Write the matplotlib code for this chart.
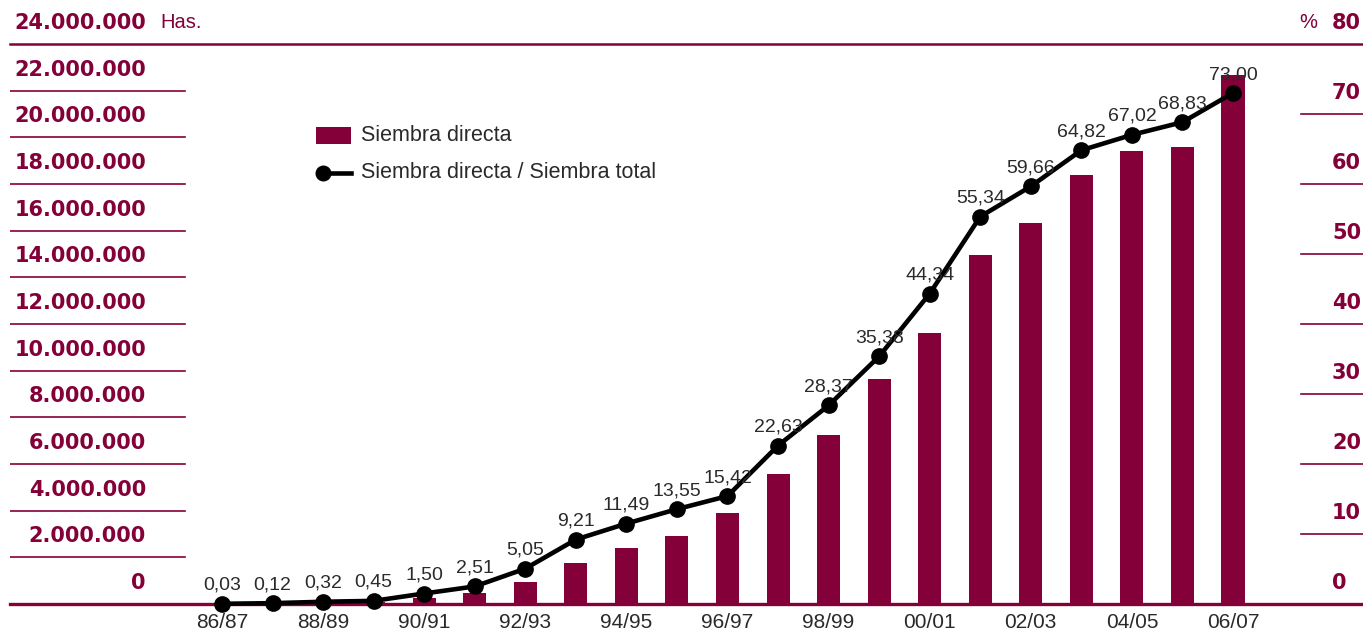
import matplotlib
matplotlib.use('Agg')
import matplotlib.pyplot as plt
import matplotlib.transforms as mtransforms
from matplotlib.patches import Rectangle
from matplotlib.lines import Line2D

# ---------------- data ----------------
campaigns = ['86/87', '87/88', '88/89', '89/90', '90/91', '91/92', '92/93', '93/94',
             '94/95', '95/96', '96/97', '97/98', '98/99', '99/00', '00/01', '01/02',
             '02/03', '03/04', '04/05', '05/06', '06/07']
hectares = [10000, 25000, 70000, 100000, 270000, 480000, 960000, 1770000,
            2410000, 2930000, 3900000, 5570000, 7260000, 9640000, 11630000, 14960000,
            16330000, 18390000, 19410000, 19590000, 22670000]
share_pct = [0.03, 0.12, 0.32, 0.45, 1.50, 2.51, 5.05, 9.21, 11.49, 13.55, 15.42,
             22.63, 28.37, 35.38, 44.34, 55.34, 59.66, 64.82, 67.02, 68.83, 73.00]
share_labels = ['0,03', '0,12', '0,32', '0,45', '1,50', '2,51', '5,05', '9,21', '11,49',
                '13,55', '15,42', '22,63', '28,37', '35,38', '44,34', '55,34', '59,66',
                '64,82', '67,02', '68,83', '73,00']
left_ticks = [0, 2000000, 4000000, 6000000, 8000000, 10000000, 12000000,
              14000000, 16000000, 18000000, 20000000, 22000000, 24000000]
left_tick_labels = ['0', '2.000.000', '4.000.000', '6.000.000', '8.000.000', '10.000.000',
                    '12.000.000', '14.000.000', '16.000.000', '18.000.000', '20.000.000',
                    '22.000.000', '24.000.000']
right_ticks = [0, 10, 20, 30, 40, 50, 60, 70, 80]
right_tick_labels = ['0', '10', '20', '30', '40', '50', '60', '70', '80']
legend_labels = ['Siembra directa', 'Siembra directa / Siembra total']

# ---------------- style ----------------
MAROON = '#840039'
TEXT = '#2a2a2a'
SANS = ['Liberation Sans', 'DejaVu Sans']
BOLD = ['DejaVu Sans']
W, H = 1363, 632

fig = plt.figure(figsize=(W / 100, H / 100), dpi=100)
ax = fig.add_axes([10 / W, 28 / H, 1353 / W, 560 / H])

n = len(campaigns)
xs = list(range(n))
step = 50.55
ax.bar(xs, hectares, width=0.455, color=MAROON, zorder=2, linewidth=0)
ax.set_xlim((10 - 222) / step, (1363 - 222) / step)
ax.set_ylim(0, 24000000)
for s in ax.spines.values():
    s.set_visible(False)
ax.set_yticks([])
ax.set_xticks(xs[::2])
ax.set_xticklabels(campaigns[::2], family=SANS, fontsize=15, color=TEXT)
ax.tick_params(axis='x', length=0, pad=6.5)

# left short grid lines
for v in left_ticks[1:-1]:
    ax.axhline(v, xmin=0, xmax=175 / 1353, color=MAROON, lw=1.2, zorder=1)
ax.axhline(left_ticks[-1], xmin=0, xmax=1, color=MAROON, lw=1.8, clip_on=False, zorder=1)
ax.axhline(0, xmin=0, xmax=1, color=MAROON, lw=2.4, clip_on=False, zorder=3)

ltrans = mtransforms.offset_copy(
    mtransforms.blended_transform_factory(ax.transAxes, ax.transData),
    fig=fig, x=0, y=21, units='dots')
for v, lab in zip(left_ticks, left_tick_labels):
    ax.text(136 / 1353, v, lab, transform=ltrans, ha='right', va='center',
            fontsize=15, fontweight='bold', family=BOLD, color=MAROON)
ax.text(150 / 1353, left_ticks[-1], 'Has.', transform=ltrans, ha='left', va='center',
        fontsize=14.5, family=SANS, color=MAROON)

# secondary axis
ax2 = ax.twinx()
ax2.set_ylim(0, 80)
for s in ax2.spines.values():
    s.set_visible(False)
ax2.set_yticks([])
for v in right_ticks[1:-1]:
    ax2.axhline(v, xmin=1291 / 1353, xmax=1, color=MAROON, lw=1.2, zorder=1)

rtrans = mtransforms.offset_copy(
    mtransforms.blended_transform_factory(ax2.transAxes, ax2.transData),
    fig=fig, x=0, y=21, units='dots')
for v, lab in zip(right_ticks, right_tick_labels):
    ax2.text(1322 / 1353, v, lab, transform=rtrans, ha='left', va='center',
             fontsize=15, fontweight='bold', family=BOLD, color=MAROON)
ax2.text(1307 / 1353, right_ticks[-1], '%', transform=rtrans, ha='right', va='center',
         fontsize=14.5, family=SANS, color=MAROON)

ax2.plot(xs, share_pct, color='black', lw=3.3, marker='o', ms=11, zorder=5, clip_on=False)
for i, (v, lab) in enumerate(zip(share_pct, share_labels)):
    ax2.annotate(lab, (i, v), xytext=(0, 14), textcoords='offset pixels',
                 ha='center', va='baseline', fontsize=14, family=SANS, color=TEXT,
                 zorder=6)

# legend (drawn in figure pixel coordinates)
def fx(x):
    return x / W

def fy(y):
    return 1 - y / H

fig.add_artist(Rectangle((fx(316), fy(144)), 35 / W, 17 / H, color=MAROON,
                         transform=fig.transFigure, linewidth=0))
fig.text(fx(361), fy(135.5), legend_labels[0], ha='left', va='center', fontsize=15.5,
         family=SANS, color=TEXT)
fig.add_artist(Line2D([fx(323), fx(351)], [fy(173), fy(173)], color='black', lw=3.3,
                      transform=fig.transFigure))
fig.add_artist(Line2D([fx(323)], [fy(173)], color='black', marker='o', ms=10.5,
                      transform=fig.transFigure))
fig.text(fx(361), fy(172.5), legend_labels[1], ha='left', va='center', fontsize=15.5,
         family=SANS, color=TEXT)

fig.savefig('out.png', dpi=100)
